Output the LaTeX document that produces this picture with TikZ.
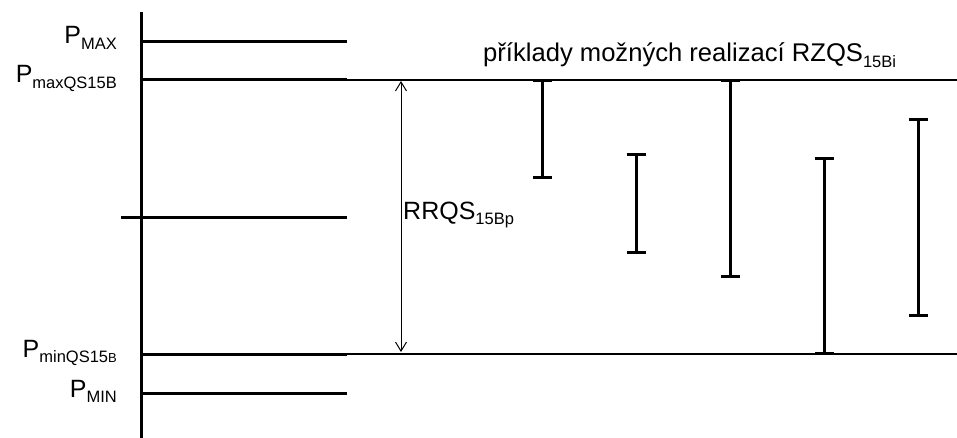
\documentclass[tikz,border=0pt]{standalone}
\usepackage{fontspec}
\setmainfont{Liberation Sans}
\usetikzlibrary{arrows.meta}
\newcommand\sbs[1]{\raisebox{-0.22em}{\fontsize{16.5}{18}\selectfont #1}}
\newcommand\tinyB{\fontsize{13}{14}\selectfont B}
\begin{document}
\begin{tikzpicture}[x=1pt,y=-1pt,
  thick line/.style={line width=3pt},
  thin line/.style={line width=1.1pt},
  lbl/.style={inner sep=0pt,anchor=base east,font=\fontsize{25}{30}\selectfont},
  txt/.style={inner sep=0pt,anchor=base west,font=\fontsize{25}{30}\selectfont},
  errbar/.style={line width=3pt,{Bar[width=19pt,line width=3pt]}-{Bar[width=19pt,line width=3pt]},shorten <=-1.5pt,shorten >=-1.5pt},
  rangearrow/.style={line width=1pt,{Straight Barb[length=9pt,width=11pt,line width=1pt]}-{Straight Barb[length=9pt,width=11pt,line width=1pt]}}]
\useasboundingbox (0,0) rectangle (957,438);
% axis
\coordinate (axT) at (141,12);
\coordinate (axB) at (141,438);
\draw[thick line] (axT) -- (axB);
% levels
\coordinate (maxL) at (141,42);   \coordinate (maxR) at (347,42);
\coordinate (qmaxL) at (141,80);  \coordinate (qmaxR) at (347,80); \coordinate (qmaxE) at (957,80);
\coordinate (midL) at (121,218);  \coordinate (midR) at (347,218);
\coordinate (qminL) at (141,354); \coordinate (qminR) at (347,354); \coordinate (qminE) at (957,354);
\coordinate (minL) at (141,393);  \coordinate (minR) at (347,393);
\draw[thick line] (maxL) -- (maxR);
\draw[thick line] (qmaxL) -- (qmaxR);
\draw[thin line] (qmaxR) -- (qmaxE);
\draw[thick line] (midL) -- (midR);
\draw[thick line] (qminL) -- (qminR);
\draw[thin line] (qminR) -- (qminE);
\draw[thick line] (minL) -- (minR);
% labels
\node[lbl] (lmax) at (117,44) {P\sbs{MAX}};
\node[lbl] (lqmax) at (117,83) {P\sbs{maxQS15B}};
\node[lbl] (lqmin) at (117,357) {P\sbs{minQS15\tinyB}};
\node[lbl] (lmin) at (117,397) {P\sbs{MIN}};
% range arrow
\coordinate (rT) at (401,81);
\coordinate (rB) at (401,352);
\draw[rangearrow] (rT) -- (rB);
\node[txt] (rlbl) at (403,219) {RRQS\sbs{15Bp}};
% title
\node[txt,font=\fontsize{25.6}{30}\selectfont] (title) at (483,62) {příklady možných realizací RZQS\sbs{15Bi}};
% error bars
\coordinate (b1T) at (542,81);  \coordinate (b1B) at (542,178);
\coordinate (b2T) at (636,155); \coordinate (b2B) at (636,252);
\coordinate (b3T) at (730,81);  \coordinate (b3B) at (730,276);
\coordinate (b4T) at (824,159); \coordinate (b4B) at (824,353);
\coordinate (b5T) at (918,120); \coordinate (b5B) at (918,315);
\draw[errbar] (b1T) -- (b1B);
\draw[errbar] (b2T) -- (b2B);
\draw[errbar] (b3T) -- (b3B);
\draw[errbar] (b4T) -- (b4B);
\draw[errbar] (b5T) -- (b5B);
\end{tikzpicture}
\end{document}
